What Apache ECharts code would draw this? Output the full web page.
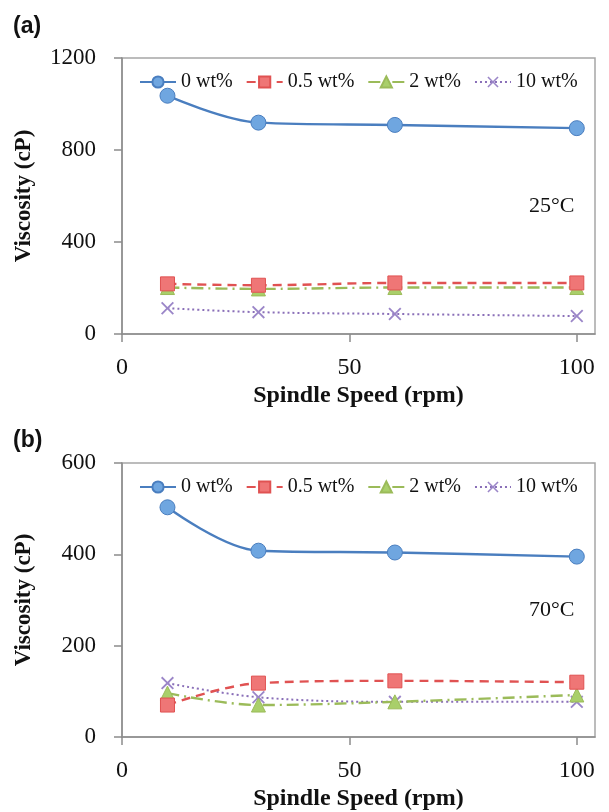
<!DOCTYPE html>
<html>
<head>
<meta charset="utf-8">
<script src="https://cdn.jsdelivr.net/npm/echarts@6/dist/echarts.min.js"></script>
<style>
  html, body { margin: 0; padding: 0; background: #fff; }
  #chart { width: 609px; height: 812px; }
</style>
</head>
<body>
<div id="chart"></div>
<script>
// 转速 (rpm)
const speeds = [10, 30, 60, 100];
const seriesNames = ['0 wt%', '0.5 wt%', '2 wt%', '10 wt%'];

// (a) 25°C
const visc25_0 = [1036, 919, 909, 895];
const visc25_05 = [218, 212, 222, 222];
const visc25_2 = [202, 196, 202, 202];
const visc25_10 = [112, 95, 87, 78];

// (b) 70°C
const visc70_0 = [503, 408, 404, 395];
const visc70_05 = [70, 118, 123, 120];
const visc70_2 = [96, 70, 77, 92];
const visc70_10 = [118, 87, 77, 77];

const xTicks = [0, 50, 100];
const yTicksA = [0, 400, 800, 1200];
const yTicksB = [0, 200, 400, 600];

const serif = '"Liberation Serif", "DejaVu Serif", serif';
const sans = '"Liberation Sans", Arial, sans-serif';

const crossPath = 'path://M0,1L1,0L5,4L9,0L10,1L6,5L10,9L9,10L5,6L1,10L0,9L4,5Z';

const styles = [
    { color: '#4a7ebf', fill: '#6fa6e0', symbol: 'circle', size: 15, type: 'solid', width: 2.4 },
    { color: '#e05252', fill: '#ef7676', symbol: 'rect', size: 14, type: [9, 6], width: 2.4 },
    { color: '#9bbb59', fill: '#a9cf6a', symbol: 'triangle', size: 14, type: [12, 5, 2, 5], width: 2.4 },
    { color: '#8a6fb8', fill: '#9b86c8', symbol: crossPath, size: 13, type: [2, 3], width: 2 },
];

const chart = echarts.init(document.getElementById('chart'));

function makeSeries(values, i, gridIdx) {
    const s = styles[i];
    return {
        name: seriesNames[i],
        type: 'line',
        xAxisIndex: gridIdx,
        yAxisIndex: gridIdx,
        data: speeds.map((x, k) => [x, values[k]]),
        smooth: 0.35,
        symbol: s.symbol,
        symbolSize: s.size,
        z: 10 - i,
        lineStyle: { color: s.color, type: s.type, width: s.width },
        itemStyle: {
            color: s.fill,
            borderColor: s.color,
            borderWidth: i === 3 ? 0 : 1,
        },
    };
}

function xAxis(gridIdx) {
    return {
        type: 'value',
        gridIndex: gridIdx,
        min: 0,
        max: 104,
        interval: 50,
        name: 'Spindle Speed (rpm)',
        nameLocation: 'middle',
        nameGap: 50,
        nameTextStyle: { fontFamily: serif, fontWeight: 'bold', fontSize: 24, color: '#111' },
        splitLine: { show: false },
        axisLine: { lineStyle: { color: '#8c8c8c', width: 1.5 } },
        axisTick: { length: 8, customValues: xTicks, lineStyle: { color: '#8c8c8c', width: 1.5 } },
        axisLabel: { customValues: xTicks, margin: 22, fontFamily: serif, fontSize: 24, color: '#111' },
    };
}

function yAxis(gridIdx, ticks) {
    return {
        type: 'value',
        gridIndex: gridIdx,
        min: ticks[0],
        max: ticks[ticks.length - 1],
        interval: ticks[1] - ticks[0],
        name: 'Viscosity (cP)',
        nameLocation: 'middle',
        nameGap: 86,
        nameTextStyle: { fontFamily: serif, fontWeight: 'bold', fontSize: 23, color: '#111' },
        splitLine: { show: false },
        axisLine: { show: true, lineStyle: { color: '#8c8c8c', width: 1.5 } },
        axisTick: { show: true, length: 8, lineStyle: { color: '#8c8c8c', width: 1.5 } },
        axisLabel: { margin: 26, fontFamily: serif, fontSize: 23, color: '#111', formatter: (v) => String(v) },
    };
}

function legend(top) {
    return {
        data: seriesNames,
        left: 134,
        top: top,
        itemWidth: 36,
        itemHeight: 14,
        itemGap: 13,
        selectedMode: false,
        textStyle: { fontFamily: serif, fontSize: 20, color: '#111' },
    };
}

chart.setOption({
    animation: false,
    backgroundColor: '#fff',
    title: [
        { text: '(a)', left: 8, top: 10, textStyle: { fontFamily: sans, fontWeight: 'bold', fontSize: 23, color: '#111' } },
        { text: '(b)', left: 8, top: 424, textStyle: { fontFamily: sans, fontWeight: 'bold', fontSize: 23, color: '#111' } },
        { text: '25°C', left: 524, top: 190, textStyle: { fontFamily: serif, fontWeight: 'normal', fontSize: 22, color: '#111' } },
        { text: '70°C', left: 524, top: 594, textStyle: { fontFamily: serif, fontWeight: 'normal', fontSize: 22, color: '#111' } },
    ],
    legend: [legend(67), legend(472)],
    grid: [
        { left: 122, right: 14, top: 58, height: 276, show: true, borderColor: '#a6a6a6', borderWidth: 1.5 },
        { left: 122, right: 14, top: 463, height: 274, show: true, borderColor: '#a6a6a6', borderWidth: 1.5 },
    ],
    xAxis: [xAxis(0), xAxis(1)],
    yAxis: [yAxis(0, yTicksA), yAxis(1, yTicksB)],
    series: [
        makeSeries(visc25_0, 0, 0),
        makeSeries(visc25_05, 1, 0),
        makeSeries(visc25_2, 2, 0),
        makeSeries(visc25_10, 3, 0),
        makeSeries(visc70_0, 0, 1),
        makeSeries(visc70_05, 1, 1),
        makeSeries(visc70_2, 2, 1),
        makeSeries(visc70_10, 3, 1),
    ],
});
</script>
</body>
</html>
